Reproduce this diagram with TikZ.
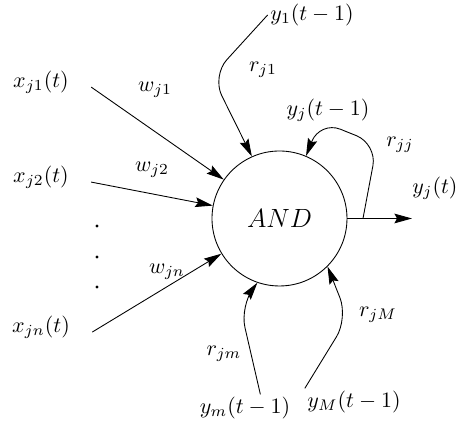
\documentclass[tikz,border=0pt]{standalone}
\usetikzlibrary{arrows.meta}

\begin{document}
\begin{tikzpicture}[
    unit/.style={draw=black, thin, circle, minimum size=2.16cm, inner sep=0pt, font=\fontsize{13.2}{16}\selectfont},
    inp/.style={inner xsep=10pt, inner ysep=1pt},
    lbl/.style={inner sep=1pt},
    link/.style={-{Stealth[length=8pt, width=4.4pt, inset=1.2pt]}, thin},
    fb/.style={link, rounded corners=10pt},
    x=1cm, y=1cm]

    \useasboundingbox (-4.472,-3.336) rectangle (2.872,3.496);

    % ================= the unit =================
    \node[unit] (c) at (0, 0) {$AND$};

    % ================= inputs from the left =================
    \node[inp] (x1) at (-3.816, 2.184) {$x_{j1}(t)$};
    \node[inp] (x2) at (-3.816, 0.664) {$x_{j2}(t)$};
    \node[inp] (xn) at (-3.816, -1.736) {$x_{jn}(t)$};

    \draw[link] (x1.base east) -- (c);
    \draw[link] (x2.base east) -- (c);
    \draw[link] (xn.base east) -- (c);

    \node[lbl] (w1) at (-1.992, 2.056) {$w_{j1}$};
    \node[lbl] (w2) at (-2.04, 0.776) {$w_{j2}$};
    \node[lbl] (wn) at (-1.80, -0.856) {$w_{jn}$};

    % the inputs in between are left out -
    \fill (-2.92, -0.12) circle (0.7pt);
    \fill (-2.92, -0.616) circle (0.7pt);
    \fill (-2.92, -1.096) circle (0.7pt);

    % ================= the output =================
    \coordinate (out) at (2.12, 0);
    \coordinate (tap) at (1.336, 0);
    \draw[link] (c.east) -- (out);
    \node[lbl] (yjt) at (2.488, 0.488) {$y_j(t)$};

    % ================= recurrent links =================
    \node[lbl] (y1) at (0.52, 3.256) {$y_1(t-1)$};
    \node[lbl] (rj1) at (-0.264, 2.376) {$r_{j1}$};
    \draw[fb] (y1.west) -- (-1.08, 2.28) -- (c.114);

    % the unit feeds back into itself -
    \node[lbl] (yj1) at (0.776, 1.736) {$y_j(t-1)$};
    \node[lbl] (rjj) at (1.928, 1.176) {$r_{jj}$};
    \draw[fb] (tap) -- (1.56, 1.192) -- (0.648, 1.56) -- (c.67);

    \node[lbl] (ym) at (-0.552, -3.032) {$y_m(t-1)$};
    \node[lbl] (rjm) at (-0.888, -2.168) {$r_{jm}$};
    \draw[fb] ([xshift=7pt]ym.north) -- (-0.632, -1.40) -- (c.-109);

    \node[lbl] (yM) at (1.192, -2.936) {$y_M(t-1)$};
    \node[lbl] (rjM) at (1.576, -1.544) {$r_{jM}$};
    \draw[fb] (yM.north west) -- (1.096, -1.592) -- (c.-45);
\end{tikzpicture}
\end{document}
